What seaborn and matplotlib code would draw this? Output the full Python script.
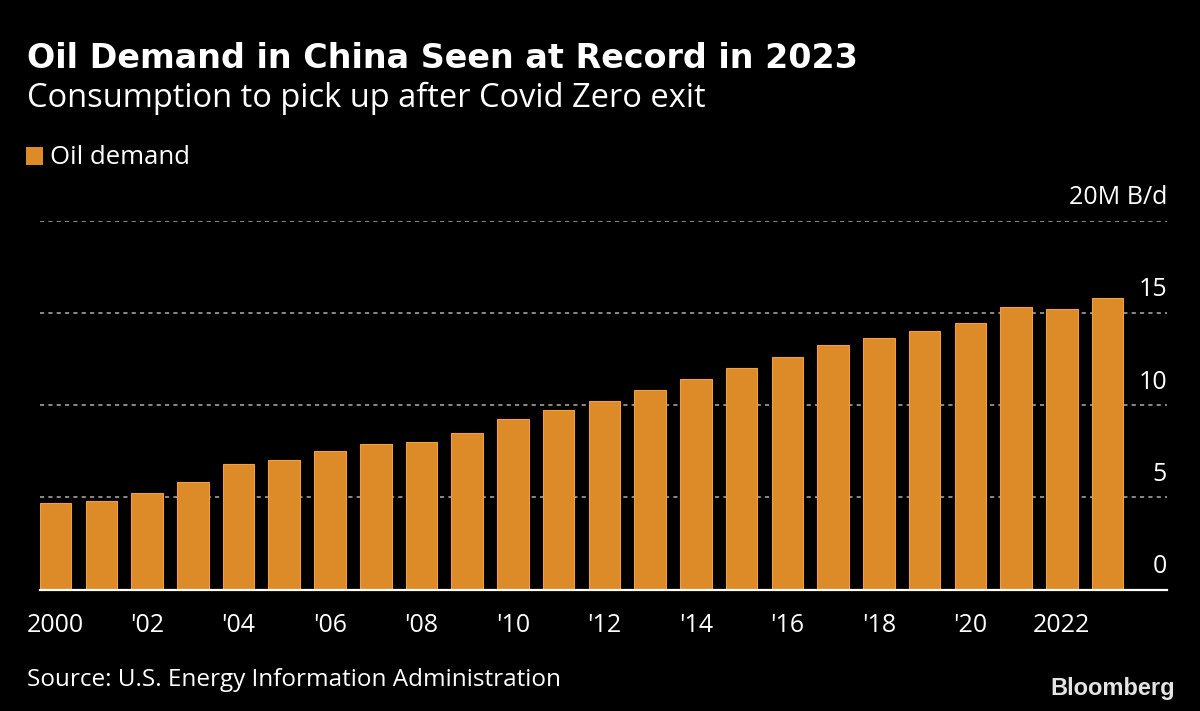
import pandas as pd
import numpy as np
import matplotlib
matplotlib.use('Agg')
import matplotlib.pyplot as plt
import matplotlib.transforms as mtransforms
import seaborn as sns

# data (million barrels per day)
years = list(range(2000, 2024))
demand = [4.70, 4.81, 5.23, 5.83, 6.82, 7.02, 7.51, 7.92, 8.02, 8.52,
          9.23, 9.74, 10.24, 10.83, 11.42, 12.04, 12.64, 13.25, 13.63, 14.03,
          14.45, 15.34, 15.24, 15.84]
tick_years = [2000, 2002, 2004, 2006, 2008, 2010, 2012, 2014, 2016, 2018, 2020, 2022]
tick_labels = ['2000', "'02", "'04", "'06", "'08", "'10", "'12", "'14", "'16", "'18", "'20", '2022']
y_ticks = [0, 5, 10, 15, 20]
y_labels = ['0', '5', '10', '15', '20M B/d']

BAR = '#dd8a28'
BG = 'black'

sns.set_style('dark')
plt.rcParams['font.family'] = ['Open Sans', 'DejaVu Sans']

df = pd.DataFrame({'year': years, 'demand': demand})

fig = plt.figure(figsize=(12, 7.11), dpi=100, facecolor=BG)
ax = fig.add_axes([40 / 1200, (711 - 589.5) / 711, (1167 - 40) / 1200, (589.5 - 221) / 711])
ax.set_facecolor(BG)

# dashed gridlines behind the bars
for v in y_ticks[1:]:
    ax.axhline(v, color='#a0a0a0', lw=1.2, ls=(0, (2.5, 2.5)), zorder=0)

sns.barplot(data=df, x='year', y='demand', color=BAR, width=0.69,
            edgecolor='#f0a13f', linewidth=0.8, saturation=1, ax=ax, zorder=2)

ax.set_xlim(-0.34, 24.3)
ax.set_ylim(0, 20)
ax.grid(False)
for s in ['top', 'right', 'left']:
    ax.spines[s].set_visible(False)
ax.spines['bottom'].set_color('white')
ax.spines['bottom'].set_linewidth(1.6)
ax.spines['bottom'].set_zorder(3)

ax.set_xticks([years.index(y) for y in tick_years])
ax.set_xticklabels(tick_labels)
ax.tick_params(axis='x', colors='white', labelcolor='white', length=7, width=1.3,
               labelsize=18, pad=10, direction='out')
ax.set_yticks([])
ax.set_xlabel('')
ax.set_ylabel('')

# value labels sit above their gridline, right aligned
trans = mtransforms.blended_transform_factory(ax.transAxes, ax.transData)
trans = mtransforms.offset_copy(trans, fig=fig, x=0, y=12, units='points')
for v, lab in zip(y_ticks, y_labels):
    ax.text(1.0, v, lab, transform=trans, ha='right', va='baseline',
            color='white', fontsize=18, clip_on=False)

# titles and legend
fig.text(27 / 1200, 1 - 68 / 711, 'Oil Demand in China Seen at Record in 2023',
         color='white', fontsize=24, fontweight='bold', family=['DejaVu Sans'],
         va='baseline', ha='left')
fig.text(27 / 1200, 1 - 107 / 711, 'Consumption to pick up after Covid Zero exit',
         color='white', fontsize=23.5, va='baseline', ha='left')
fig.patches.append(plt.Rectangle((26 / 1200, 1 - 165 / 711), 17 / 1200, 18 / 711,
                                 transform=fig.transFigure, facecolor=BAR, edgecolor='none'))
fig.text(50 / 1200, 1 - 164 / 711, 'Oil demand', color='white', fontsize=18.5,
         va='baseline', ha='left')

fig.text(27 / 1200, 1 - 686 / 711, 'Source: U.S. Energy Information Administration',
         color='white', fontsize=17.5, va='baseline', ha='left')
fig.text(1175 / 1200, 1 - 695 / 711, 'Bloomberg', color='#e4e4e4', fontsize=17,
         fontweight='bold', family=['Liberation Sans', 'DejaVu Sans'],
         va='baseline', ha='right')

fig.savefig('out.png', dpi=100, facecolor=BG)
